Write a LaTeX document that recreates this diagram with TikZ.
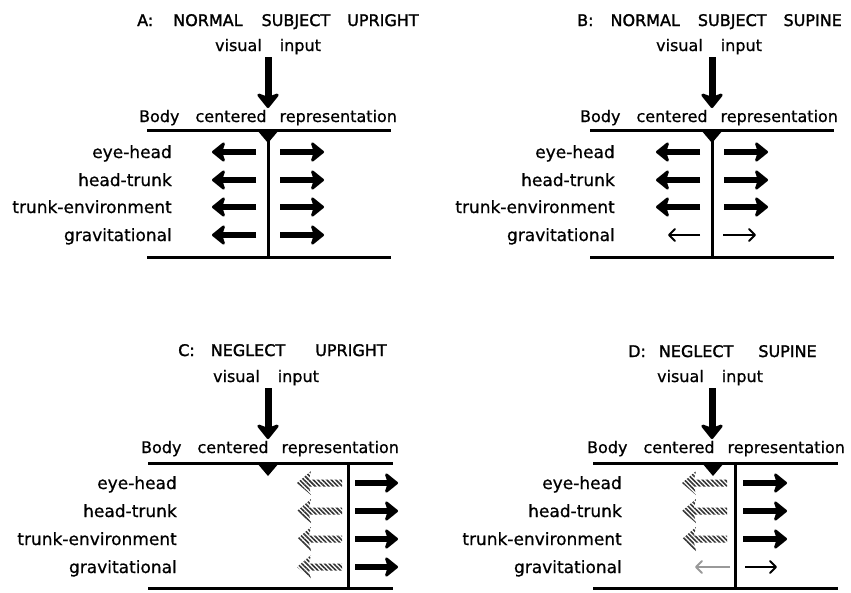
\documentclass[tikz,border=0pt]{standalone}
\usepackage{fontspec}
\setmainfont{DejaVu Sans}[FakeBold=0.7]
\newfontfamily\heavy{DejaVu Sans}[FakeBold=1.6]
\usepackage{xcolor}
\usepackage{tikz}
\usetikzlibrary{arrows.meta, patterns.meta}

\begin{document}
\begin{tikzpicture}[
    x=1pt, y=-1pt,
    ttl/.style={anchor=base west, inner sep=0pt, font=\heavy\fontsize{16}{18}\selectfont},
    txt/.style={anchor=base, inner sep=0pt, font=\fontsize{16}{18}\selectfont},
    lab/.style={anchor=base east, inner sep=0pt, font=\fontsize{17}{19}\selectfont},
    rule/.style={line width=3pt},
    input/.style={-{Stealth[round, length=17pt, width=27pt, inset=5pt]}, line width=7pt},
    fat/.style={-{Stealth[round, length=15pt, width=24pt, inset=4pt]}, line width=5.5pt},
    slim/.style={-{Straight Barb[round, length=6pt, width=12pt]}, line width=2pt},
    hatched/.pic={\fill[pattern={Lines[angle=-45, distance=3.2pt, line width=1.6pt]}, pattern color=black!80]
        (0,0) -- (14,-12) -- (12,-3.5) -- (45,-3.5) -- (45,3.5) -- (12,3.5) -- (14,12) -- cycle;}
]
\useasboundingbox (0,0) rectangle (851,592);

% A: normal, upright
\begin{scope}
\node (ttlA) [ttl] at (137,26) {A:\hspace{20pt}NORMAL\hspace{19pt}SUBJECT\hspace{17pt}UPRIGHT};
\node (inA) [txt] at (268,51) {visual\hspace{18pt}input};
\node (bodyA) [txt] at (268,122) {Body\hspace{16pt}centered\hspace{13pt}representation};
\coordinate (hitA) at (268,108);
\draw [input] ([yshift=-6pt]inA.base) -- (hitA);
\draw [rule] (147,130) -- (391,130);
\draw [rule] (147,257) -- (391,257);
\draw [rule] (268,130) -- (268,257);
\fill (257,130) -- (279,130) -- (268,143) -- cycle;
\node (eyeA) [lab] at (172,158) {eye-head};
\node (headA) [lab] at (172,186) {head-trunk};
\node (trunkA) [lab] at (172,213) {trunk-environment};
\node (gravA) [lab] at (172,241) {gravitational};
\coordinate (A1) at (268,152);
\coordinate (A2) at (268,180);
\coordinate (A3) at (268,207);
\coordinate (A4) at (268,235);
\draw [fat] ([xshift=-12pt]A1) -- ([xshift=-56pt]A1);
\draw [fat] ([xshift=12pt]A1) -- ([xshift=56pt]A1);
\draw [fat] ([xshift=-12pt]A2) -- ([xshift=-56pt]A2);
\draw [fat] ([xshift=12pt]A2) -- ([xshift=56pt]A2);
\draw [fat] ([xshift=-12pt]A3) -- ([xshift=-56pt]A3);
\draw [fat] ([xshift=12pt]A3) -- ([xshift=56pt]A3);
\draw [fat] ([xshift=-12pt]A4) -- ([xshift=-56pt]A4);
\draw [fat] ([xshift=12pt]A4) -- ([xshift=56pt]A4);
\end{scope}

% B: normal, supine
\begin{scope}[shift={(445,0)}]
\node (ttlB) [ttl] at (132,26) {B:\hspace{17pt}NORMAL\hspace{18pt}SUBJECT\hspace{17pt}SUPINE};
\node (inB) [txt] at (264,51) {visual\hspace{18pt}input};
\node (bodyB) [txt] at (264,122) {Body\hspace{16pt}centered\hspace{13pt}representation};
\coordinate (hitB) at (267,108);
\draw [input] ([xshift=3pt,yshift=-6pt]inB.base) -- (hitB);
\draw [rule] (145,130) -- (389,130);
\draw [rule] (145,257) -- (389,257);
\draw [rule] (267,130) -- (267,257);
\fill (256,130) -- (278,130) -- (267,143) -- cycle;
\node (eyeB) [lab] at (170,158) {eye-head};
\node (headB) [lab] at (170,186) {head-trunk};
\node (trunkB) [lab] at (170,213) {trunk-environment};
\node (gravB) [lab] at (170,241) {gravitational};
\coordinate (B1) at (267,152);
\coordinate (B2) at (267,180);
\coordinate (B3) at (267,207);
\coordinate (B4) at (267,235);
\draw [fat] ([xshift=-12pt]B1) -- ([xshift=-56pt]B1);
\draw [fat] ([xshift=12pt]B1) -- ([xshift=56pt]B1);
\draw [fat] ([xshift=-12pt]B2) -- ([xshift=-56pt]B2);
\draw [fat] ([xshift=12pt]B2) -- ([xshift=56pt]B2);
\draw [fat] ([xshift=-12pt]B3) -- ([xshift=-56pt]B3);
\draw [fat] ([xshift=12pt]B3) -- ([xshift=56pt]B3);
\draw [slim] ([xshift=-12pt]B4) -- ([xshift=-44pt]B4);
\draw [slim] ([xshift=11pt]B4) -- ([xshift=44pt]B4);
\end{scope}

% C: neglect, upright
\begin{scope}[shift={(0,332)}]
\node (ttlC) [ttl] at (178,24) {C:\hspace{16pt}NEGLECT\hspace{30pt}UPRIGHT};
\node (inC) [txt] at (266,50) {visual\hspace{18pt}input};
\node (bodyC) [txt] at (270,121) {Body\hspace{16pt}centered\hspace{13pt}representation};
\coordinate (hitC) at (268,107);
\draw [input] ([xshift=2pt,yshift=-6pt]inC.base) -- (hitC);
\draw [rule] (148,131) -- (393,131);
\draw [rule] (148,256) -- (393,256);
\draw [rule] (348,131) -- (348,256);
\fill (257,131) -- (279,131) -- (268,144) -- cycle;
\node (eyeC) [lab] at (177,157) {eye-head};
\node (headC) [lab] at (177,185) {head-trunk};
\node (trunkC) [lab] at (177,213) {trunk-environment};
\node (gravC) [lab] at (177,241) {gravitational};
\coordinate (C1) at (348,151);
\coordinate (C2) at (348,179);
\coordinate (C3) at (348,207);
\coordinate (C4) at (348,235);
\pic at ([xshift=-51pt]C1) {hatched};
\pic at ([xshift=-51pt]C2) {hatched};
\pic at ([xshift=-51pt]C3) {hatched};
\pic at ([xshift=-51pt]C4) {hatched};
\draw [fat] ([xshift=7pt]C1) -- ([xshift=50pt]C1);
\draw [fat] ([xshift=7pt]C2) -- ([xshift=50pt]C2);
\draw [fat] ([xshift=7pt]C3) -- ([xshift=50pt]C3);
\draw [fat] ([xshift=7pt]C4) -- ([xshift=50pt]C4);
\end{scope}

% D: neglect, supine
\begin{scope}[shift={(445,332)}]
\node (ttlD) [ttl] at (183,25) {D:\hspace{13pt}NEGLECT\hspace{25pt}SUPINE};
\node (inD) [txt] at (265,50) {visual\hspace{18pt}input};
\node (bodyD) [txt] at (271,121) {Body\hspace{16pt}centered\hspace{13pt}representation};
\coordinate (hitD) at (267,107);
\draw [input] ([xshift=2pt,yshift=-6pt]inD.base) -- (hitD);
\draw [rule] (148,131) -- (393,131);
\draw [rule] (148,256) -- (393,256);
\draw [rule] (290,131) -- (290,256);
\fill (257,131) -- (279,131) -- (268,144) -- cycle;
\node (eyeD) [lab] at (177,157) {eye-head};
\node (headD) [lab] at (177,185) {head-trunk};
\node (trunkD) [lab] at (177,213) {trunk-environment};
\node (gravD) [lab] at (177,241) {gravitational};
\coordinate (D1) at (290,151);
\coordinate (D2) at (290,179);
\coordinate (D3) at (290,207);
\coordinate (D4) at (290,235);
\pic at ([xshift=-53pt]D1) {hatched};
\pic at ([xshift=-53pt]D2) {hatched};
\pic at ([xshift=-53pt]D3) {hatched};
\draw [fat] ([xshift=8pt]D1) -- ([xshift=52pt]D1);
\draw [fat] ([xshift=8pt]D2) -- ([xshift=52pt]D2);
\draw [fat] ([xshift=8pt]D3) -- ([xshift=52pt]D3);
\draw [slim, draw=black!40] ([xshift=-5pt]D4) -- ([xshift=-40pt]D4);
\draw [slim] ([xshift=10pt]D4) -- ([xshift=42pt]D4);
\end{scope}
\end{tikzpicture}
\end{document}
